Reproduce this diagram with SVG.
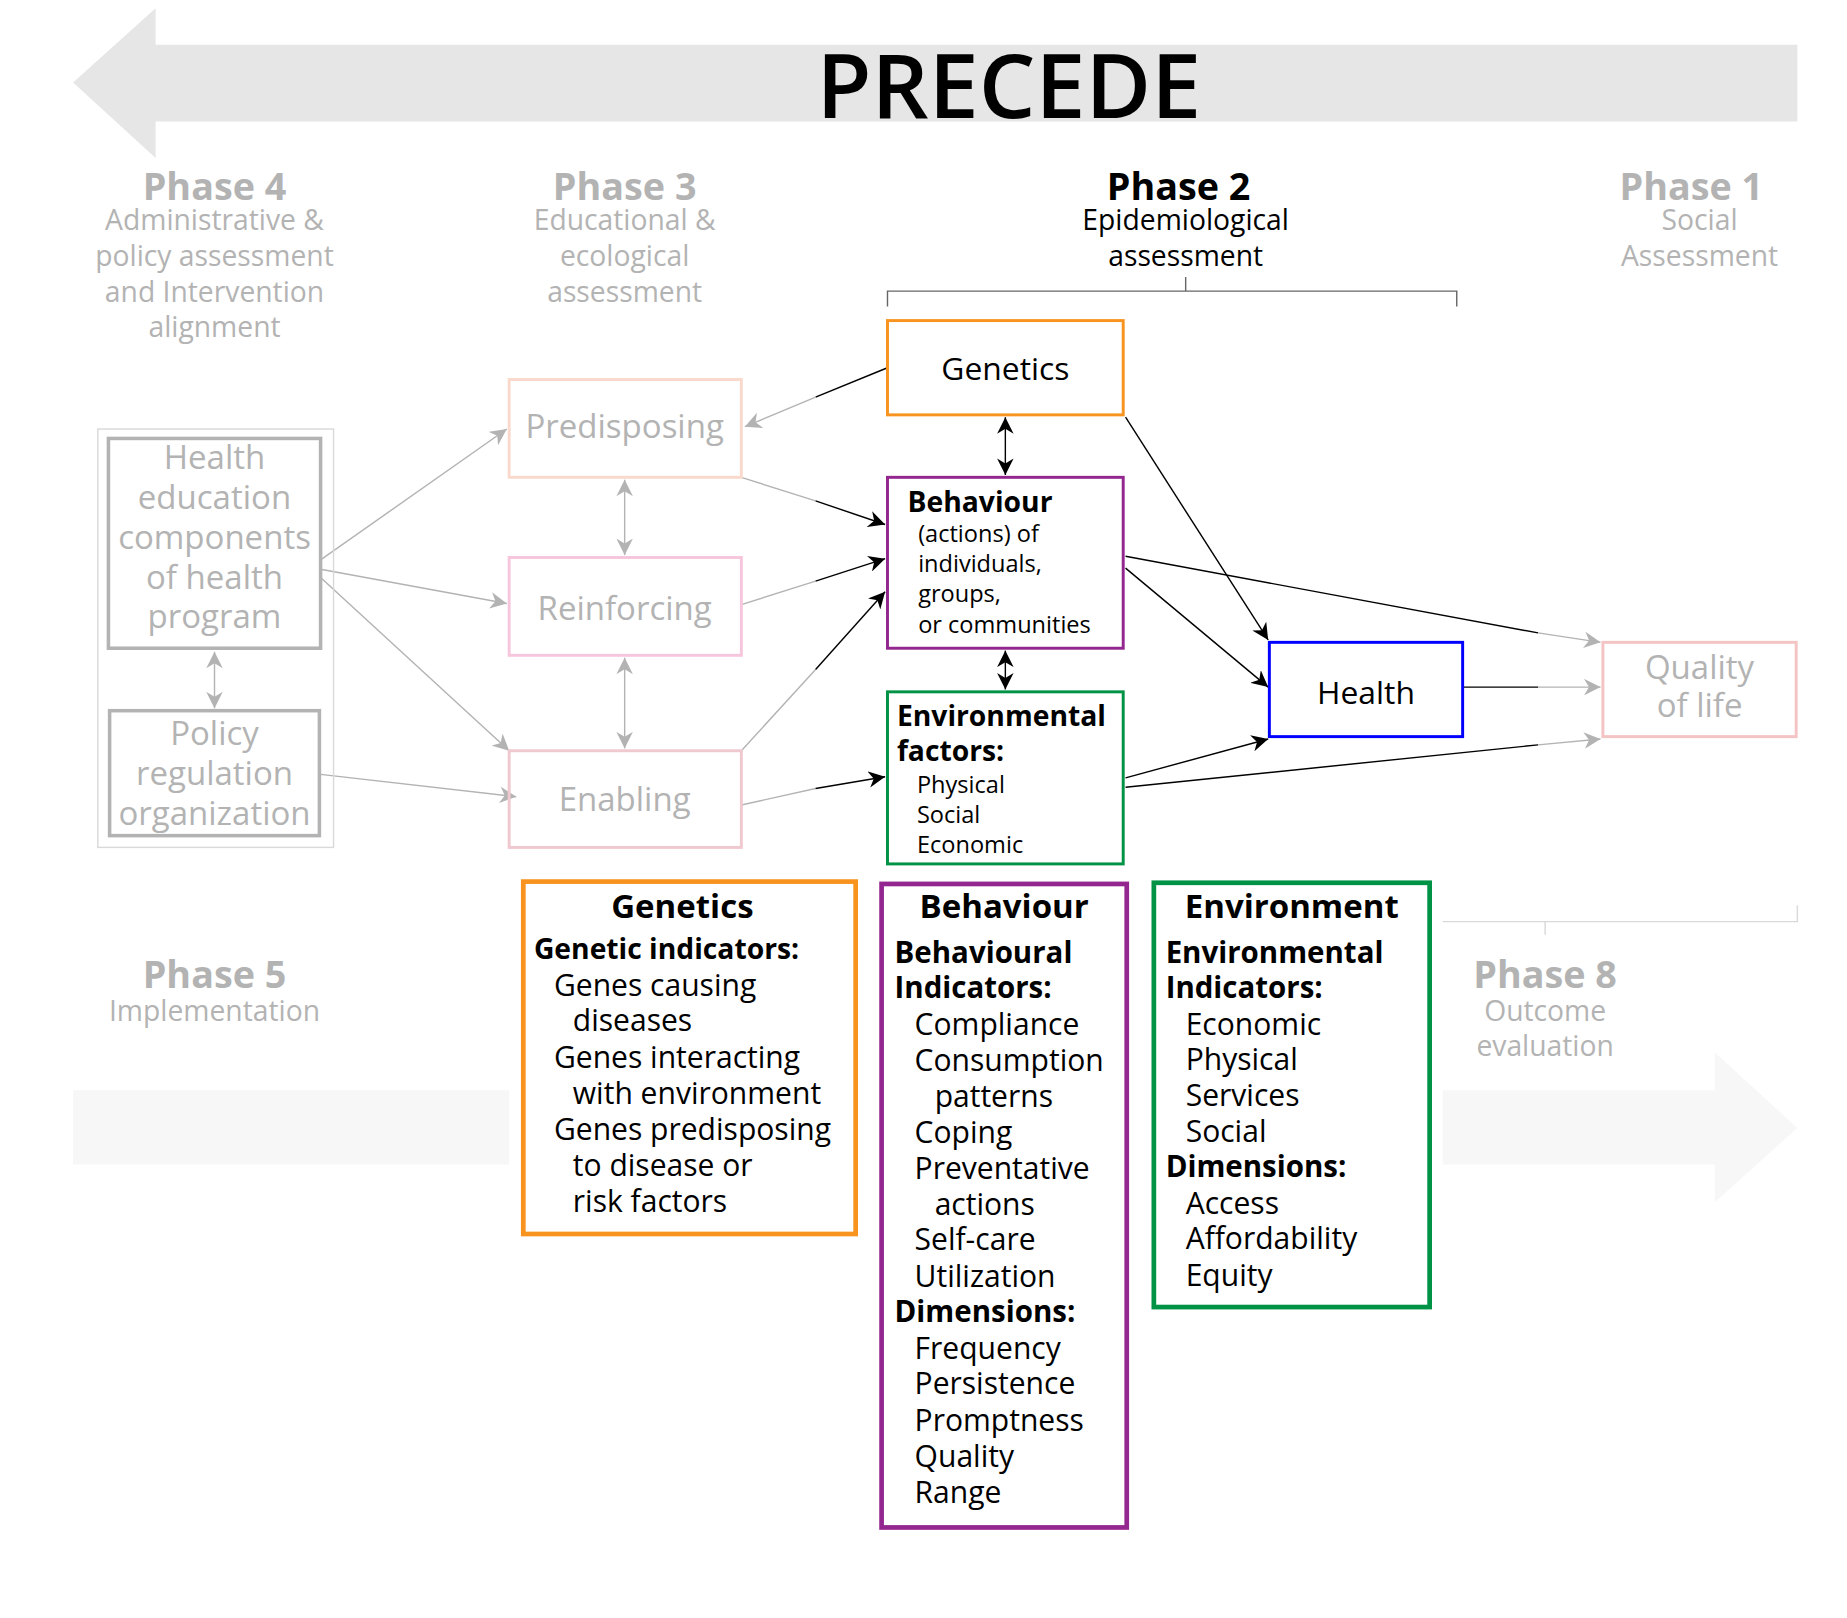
<svg xmlns="http://www.w3.org/2000/svg" width="1847" height="1618" viewBox="0 0 1847 1618">
<style>
text{font-family:"Open Sans","Noto Sans","Liberation Sans",sans-serif}
.ph{font-size:32px;font-weight:700;fill:#b3b3b3;text-anchor:middle}
.ps{font-size:24px;fill:#b3b3b3;text-anchor:middle}
.k{stroke:#000;stroke-width:1.2;fill:none}
.g{stroke:#b3b3b3;stroke-width:1.2;fill:none}
.ka{marker-end:url(#ak)}.kb{marker-start:url(#ak);marker-end:url(#ak)}
.ga{marker-end:url(#ag)}.gb{marker-start:url(#ag);marker-end:url(#ag)}
.gt{fill:#b3b3b3;font-size:28px;text-anchor:middle}
.b{font-weight:700}
.it{font-size:25.5px}
</style>
<defs>
<marker id="ak" viewBox="0 0 10 10" refX="10" refY="5" markerWidth="14" markerHeight="14" markerUnits="userSpaceOnUse" orient="auto-start-reverse"><path d="M0,0L10,5L0,10L3,5z" fill="#000"/></marker>
<marker id="ag" viewBox="0 0 10 10" refX="10" refY="5" markerWidth="14" markerHeight="14" markerUnits="userSpaceOnUse" orient="auto-start-reverse"><path d="M0,0L10,5L0,10L3,5z" fill="#b3b3b3"/></marker>
</defs>
<rect width="1847" height="1618" fill="#fff"/>
<g transform="scale(1.1786)">
<g id="precede-arrow">
<polygon points="62,70 132,7 132,38 1525,38 1525,103 132,103 132,134" fill="#e6e6e6"/>
<text x="856" y="100" font-size="76" font-weight="600" text-anchor="middle">PRECEDE</text>
</g>
<g id="proceed-arrow" fill="#f7f7f7">
<rect x="62" y="925" width="370" height="63"/>
<polygon points="1224,925 1455,925 1455,893 1525,957 1455,1020 1455,988 1224,988"/>
</g>
<g id="phases">
<text class="ph" x="182" y="170">Phase 4</text>
<text class="ps" x="182" y="195">Administrative &amp;</text>
<text class="ps" x="182" y="226">policy assessment</text>
<text class="ps" x="182" y="256">and Intervention</text>
<text class="ps" x="182" y="286">alignment</text>
<text class="ph" x="530" y="170">Phase 3</text>
<text class="ps" x="530" y="195">Educational &amp;</text>
<text class="ps" x="530" y="226">ecological</text>
<text class="ps" x="530" y="256">assessment</text>
<text class="ph" x="1000" y="170" style="fill:#000">Phase 2</text>
<text class="ps" x="1006" y="195" style="fill:#000">Epidemiological</text>
<text class="ps" x="1006" y="226" style="fill:#000">assessment</text>
<text class="ph" x="1435" y="170">Phase 1</text>
<text class="ps" x="1442" y="195">Social</text>
<text class="ps" x="1442" y="226">Assessment</text>
<text class="ph" x="182" y="838">Phase 5</text>
<text class="ps" x="182" y="866">Implementation</text>
<text class="ph" x="1311" y="838">Phase 8</text>
<text class="ps" x="1311" y="866">Outcome</text>
<text class="ps" x="1311" y="896">evaluation</text>
<path d="M753,260V247H1236V260M1006,247V235" stroke="#666" stroke-width="1.2" fill="none"/>
<path d="M1224,782H1525V768M1311,782V793" stroke="#d9d9d9" stroke-width="1.2" fill="none"/>
</g>
<g id="connectors">
<path class="k" d="M753,312L692,337"/><path class="g ga" d="M692,337L632,362"/>
<path class="k kb" d="M853,354V403"/>
<path class="k kb" d="M853,552V585"/>
<path class="k ka" d="M955,354L1076,543"/>
<path class="k ka" d="M955,482L1076,583"/>
<path class="k" d="M955,472L1305,537"/><path class="g ga" d="M1305,537L1358,545"/>
<path class="k ka" d="M955,660L1076,627"/>
<path class="k" d="M955,668L1305,632"/><path class="g ga" d="M1305,632L1358,627"/>
<path class="k" d="M1242,583H1305"/><path class="g ga" d="M1305,583H1358"/>
<path class="g" d="M629,405L692,425"/><path class="k ka" d="M692,425L751,445"/>
<path class="g" d="M629,513L692,493"/><path class="k ka" d="M692,493L751,474"/>
<path class="g" d="M629,637L692,568"/><path class="k ka" d="M692,568L751,502"/>
<path class="g" d="M629,683L692,669"/><path class="k ka" d="M692,669L751,659"/>
<path class="g gb" d="M530,407V471"/>
<path class="g gb" d="M530,558V635"/>
<path class="g ga" d="M272,475L430,364"/>
<path class="g ga" d="M272,483L430,512"/>
<path class="g ga" d="M272,490L432,637"/>
<path class="g ga" d="M272,657L438,676"/>
<path class="g gb" d="M182,553V601"/>
</g>
<g id="phase4-group"><rect x="83" y="364" width="200" height="355" fill="none" stroke="#d9d9d9" stroke-width="1.2"/></g>
<g id="health-education">
<rect x="92" y="372" width="180" height="178" fill="none" stroke="#b3b3b3" stroke-width="3"/>
<text class="gt" x="182" y="398">Health</text><text class="gt" x="182" y="432">education</text><text class="gt" x="182" y="466">components</text><text class="gt" x="182" y="500">of health</text><text class="gt" x="182" y="533">program</text>
</g>
<g id="policy">
<rect x="93" y="603" width="178" height="106" fill="none" stroke="#b3b3b3" stroke-width="3"/>
<text class="gt" x="182" y="632">Policy</text><text class="gt" x="182" y="666">regulation</text><text class="gt" x="182" y="700">organization</text>
</g>
<g id="predisposing"><rect x="432" y="322" width="197" height="83" fill="none" stroke="#f9d9cc" stroke-width="2.5"/><text class="gt" x="530" y="372">Predisposing</text></g>
<g id="reinforcing"><rect x="432" y="473" width="197" height="83" fill="none" stroke="#f6c6dc" stroke-width="2.5"/><text class="gt" x="530" y="526">Reinforcing</text></g>
<g id="enabling"><rect x="432" y="637" width="197" height="82" fill="none" stroke="#f0c8cf" stroke-width="2.5"/><text class="gt" x="530" y="688">Enabling</text></g>
<g id="genetics"><rect x="753" y="272" width="200" height="80" fill="none" stroke="#f7931e" stroke-width="2.5"/><text x="853" y="322" font-size="27" text-anchor="middle">Genetics</text></g>
<g id="behaviour"><rect x="753" y="405" width="200" height="145" fill="none" stroke="#93278f" stroke-width="2.5"/>
<text x="770" y="434" font-size="24" class="b">Behaviour</text>
<g font-size="20"><text x="779" y="460">(actions) of</text><text x="779" y="485">individuals,</text><text x="779" y="511">groups,</text><text x="779" y="537">or communities</text></g></g>
<g id="environmental"><rect x="753" y="587" width="200" height="146" fill="none" stroke="#009245" stroke-width="2.5"/>
<text x="761" y="616" font-size="24" class="b">Environmental</text><text x="761" y="646" font-size="24" class="b">factors:</text>
<g font-size="20"><text x="778" y="673">Physical</text><text x="778" y="698">Social</text><text x="778" y="724">Economic</text></g></g>
<g id="health"><rect x="1077" y="545" width="164" height="80" fill="none" stroke="#0000ff" stroke-width="2.5"/><text x="1159" y="597" font-size="27" text-anchor="middle">Health</text></g>
<g id="quality"><rect x="1360" y="545" width="164" height="80" fill="none" stroke="#f4c4c4" stroke-width="2.5"/><text class="gt" x="1442" y="576">Quality</text><text class="gt" x="1442" y="608">of life</text></g>
<g id="genetics-box"><rect x="444" y="748" width="282" height="299" fill="none" stroke="#f7931e" stroke-width="4"/>
<text x="579" y="779" font-size="28" class="b" text-anchor="middle">Genetics</text>
<text x="453" y="814" font-size="24" class="b">Genetic indicators:</text>
<g class="it"><text x="470" y="845">Genes causing</text><text x="486" y="875">diseases</text><text x="470" y="906">Genes interacting</text><text x="486" y="937">with environment</text><text x="470" y="967">Genes predisposing</text><text x="486" y="998">to disease or</text><text x="486" y="1028">risk factors</text></g></g>
<g id="behaviour-box"><rect x="748" y="750" width="208" height="546" fill="none" stroke="#93278f" stroke-width="4"/>
<text x="852" y="779" font-size="28" class="b" text-anchor="middle">Behaviour</text>
<g font-size="25" class="b"><text x="759" y="817">Behavioural</text><text x="759" y="847">Indicators:</text><text x="759" y="1122">Dimensions:</text></g>
<g class="it"><text x="776" y="878">Compliance</text><text x="776" y="909">Consumption</text><text x="793" y="939">patterns</text><text x="776" y="970">Coping</text><text x="776" y="1000">Preventative</text><text x="793" y="1031">actions</text><text x="776" y="1061">Self-care</text><text x="776" y="1092">Utilization</text><text x="776" y="1153">Frequency</text><text x="776" y="1183">Persistence</text><text x="776" y="1214">Promptness</text><text x="776" y="1245">Quality</text><text x="776" y="1275">Range</text></g></g>
<g id="environment-box"><rect x="979" y="749" width="234" height="360" fill="none" stroke="#009245" stroke-width="4"/>
<text x="1096" y="779" font-size="28" class="b" text-anchor="middle">Environment</text>
<g font-size="25" class="b"><text x="989" y="817">Environmental</text><text x="989" y="847">Indicators:</text><text x="989" y="999">Dimensions:</text></g>
<g class="it"><text x="1006" y="878">Economic</text><text x="1006" y="908">Physical</text><text x="1006" y="938">Services</text><text x="1006" y="969">Social</text><text x="1006" y="1030">Access</text><text x="1006" y="1060">Affordability</text><text x="1006" y="1091">Equity</text></g></g>
</g>
</svg>
